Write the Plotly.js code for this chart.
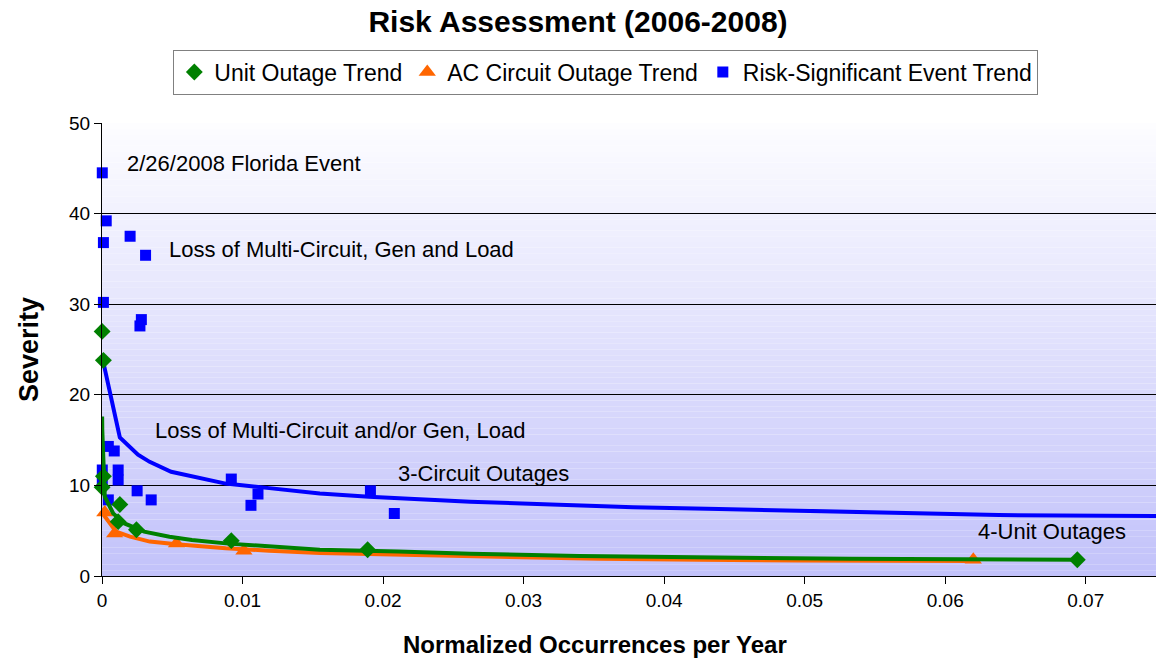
<!DOCTYPE html>
<html>
<head>
<meta charset="utf-8">
<script src="https://cdn.plot.ly/plotly-3.0.1.min.js"></script>
<style>html,body{margin:0;padding:0;background:#fff;}#chart{width:1156px;height:658px;}</style>
</head>
<body>
<div id="chart"></div>
<script>
// ---- Data ----
// Unit outage (green diamonds)
const unitX = [0.00001, 0.0001, 0.00001, 0.0001, 0.00127, 0.00115, 0.00245, 0.0092, 0.0189, 0.0694];
const unitY = [27.0, 23.8, 9.8, 11.0, 7.9, 6.0, 5.1, 3.9, 2.9, 1.8];
// Unit outage trend line
const unitTrendX = [0.00001, 0.00002, 0.0002, 0.0008, 0.0016, 0.003, 0.0048, 0.0064, 0.0088, 0.0119, 0.0155, 0.0211, 0.0262, 0.034, 0.0425, 0.0532, 0.0694];
const unitTrendY = [17.6, 16.1, 8.75, 6.9, 5.8, 4.9, 4.34, 3.97, 3.6, 3.25, 2.9, 2.7, 2.45, 2.2, 2.02, 1.9, 1.8];

// AC circuit outage (orange triangles)
const acX = [0.0002, 0.0009, 0.0053, 0.0101, 0.0620];
const acY = [7.0, 4.7, 3.6, 2.8, 1.8];
// AC circuit outage trend line
const acTrendX = [0.00005, 0.001, 0.002, 0.0034, 0.0053, 0.0088, 0.0119, 0.0155, 0.019, 0.0227, 0.0292, 0.0354, 0.0425, 0.0496, 0.0620];
const acTrendY = [6.9, 4.9, 4.34, 3.8, 3.5, 3.06, 2.8, 2.55, 2.43, 2.3, 2.13, 1.9, 1.8, 1.7, 1.65];

// Risk-significant events (blue squares)
const riskX = [0.00002, 0.0003, 0.0001, 0.0020, 0.0031, 0.0001, 0.0028, 0.0027,
               0.00045, 0.00087, 0.00002, 0.00115, 0.00115, 0.00002, 0.00045, 0.0025, 0.0035,
               0.0092, 0.0111, 0.0106, 0.0191, 0.0208];
const riskY = [44.5, 39.2, 36.8, 37.5, 35.4, 30.2, 28.3, 27.6,
               14.3, 13.8, 11.7, 11.7, 10.6, 10.6, 8.4, 9.4, 8.4,
               10.7, 9.05, 7.8, 9.4, 6.9];
// Risk-significant trend line
const riskTrendX = [0.00005, 0.00127, 0.00256, 0.00339, 0.00492, 0.0088, 0.0119, 0.0155, 0.019, 0.0227, 0.0262, 0.0299, 0.0335, 0.0378, 0.0439, 0.0496, 0.0578, 0.0638, 0.075];
const riskTrendY = [23.9, 15.3, 13.4, 12.6, 11.5, 10.2, 9.7, 9.1, 8.75, 8.45, 8.2, 8.0, 7.8, 7.58, 7.4, 7.2, 7.0, 6.73, 6.62];

// Labels
const titleText = "Risk Assessment (2006-2008)";
const xTitle = "Normalized Occurrences per Year";
const yTitle = "Severity";
const seriesNames = ["Unit Outage Trend", "AC Circuit Outage Trend", "Risk-Significant Event Trend"];
const xTicks = [0, 0.01, 0.02, 0.03, 0.04, 0.05, 0.06, 0.07];
const xTickText = ["0", "0.01", "0.02", "0.03", "0.04", "0.05", "0.06", "0.07"];
const yTicks = [0, 10, 20, 30, 40, 50];
const notes = [
  {text: "2/26/2008 Florida Event", x: 0.00165, y: 45.5},
  {text: "Loss of Multi-Circuit, Gen and Load", x: 0.00465, y: 36.0},
  {text: "Loss of Multi-Circuit and/or Gen, Load", x: 0.0036, y: 16.1},
  {text: "3-Circuit Outages", x: 0.0209, y: 11.3},
  {text: "4-Unit Outages", x: 0.0622, y: 4.9}
];

const FONT = "Liberation Sans, Arial, sans-serif";
const BLUE = "#0000FF", GREEN = "#008000", ORANGE = "#FF6600";

const traces = [
  {x: riskTrendX, y: riskTrendY, mode: "lines", line: {color: BLUE, width: 4}, showlegend: false, hoverinfo: "skip"},
  {x: riskX, y: riskY, mode: "markers", name: seriesNames[2], legendrank: 3, cliponaxis: false,
   marker: {symbol: "square", size: 11, color: BLUE}},
  {x: acTrendX, y: acTrendY, mode: "lines", line: {color: ORANGE, width: 4}, showlegend: false, hoverinfo: "skip"},
  {x: acX, y: acY, mode: "markers", name: seriesNames[1], legendrank: 2, cliponaxis: false,
   marker: {symbol: "triangle-up", size: 15, color: ORANGE}},
  {x: unitTrendX, y: unitTrendY, mode: "lines", line: {color: GREEN, width: 4}, showlegend: false, hoverinfo: "skip"},
  {x: unitX, y: unitY, mode: "markers", name: seriesNames[0], legendrank: 1, cliponaxis: false,
   marker: {symbol: "diamond", size: 13, color: GREEN}}
];

// gradient background stripes (white at top -> lavender at bottom)
const shapes = [];
const N = 80;
for (let i = 0; i < N; i++) {
  const t = (i + 0.5) / N; // 0 bottom, 1 top
  const r = Math.round(194 + (253 - 194) * t);
  const g = Math.round(194 + (253 - 194) * t);
  const b = Math.round(250 + (255 - 250) * t);
  shapes.push({type: "rect", xref: "paper", yref: "paper", x0: 0, x1: 1, y0: i / N, y1: (i + 1) / N,
    fillcolor: `rgb(${r},${g},${b})`, line: {width: 0}, layer: "below"});
}

const annotations = notes.map(n => ({
  text: n.text, x: n.x, y: n.y, xref: "x", yref: "y", xanchor: "left", yanchor: "middle",
  showarrow: false, font: {family: FONT, size: 22, color: "#000"}
}));
// x-axis title (placed as in the reference, slightly left of plot centre)
annotations.push({
  text: "<b>" + xTitle + "</b>", xref: "paper", yref: "paper", x: 0.468, y: -0.152,
  xanchor: "center", yanchor: "middle", showarrow: false,
  font: {family: FONT, size: 24, color: "#000"}
});

const layout = {
  width: 1156, height: 658,
  margin: {l: 102, r: 0, t: 123, b: 82},
  paper_bgcolor: "#fff", plot_bgcolor: "rgba(0,0,0,0)",
  font: {family: FONT, color: "#000", size: 18},
  title: {text: "<b>" + titleText + "</b>", x: 0.5, xanchor: "center", y: 0.968, yanchor: "middle",
          xref: "container", font: {family: FONT, size: 30, color: "#000"}},
  showlegend: true,
  legend: {orientation: "h", x: 0.478, xanchor: "center", y: 1.162, yanchor: "top",
           bgcolor: "#fff", bordercolor: "#808080", borderwidth: 1,
           font: {family: FONT, size: 23, color: "#000"}, traceorder: "normal"},
  xaxis: {range: [0, 0.075], tickvals: xTicks, ticktext: xTickText,
          ticks: "outside", ticklen: 7, tickcolor: "#000", tickwidth: 1,
          showline: true, linecolor: "#000", linewidth: 1, showgrid: false, zeroline: false,
          tickfont: {family: FONT, size: 19}},
  yaxis: {range: [0, 50], tickvals: yTicks,
          ticks: "outside", ticklen: 7, tickcolor: "#000", tickwidth: 1,
          showline: true, linecolor: "#000", linewidth: 1,
          showgrid: true, gridcolor: "#000", gridwidth: 1, zeroline: false,
          tickfont: {family: FONT, size: 19},
          title: {text: "<b>" + yTitle + "</b>", font: {family: FONT, size: 27}, standoff: 22}},
  shapes: shapes,
  annotations: annotations
};

Plotly.newPlot("chart", traces, layout, {displayModeBar: false, staticPlot: true});
</script>
</body>
</html>
